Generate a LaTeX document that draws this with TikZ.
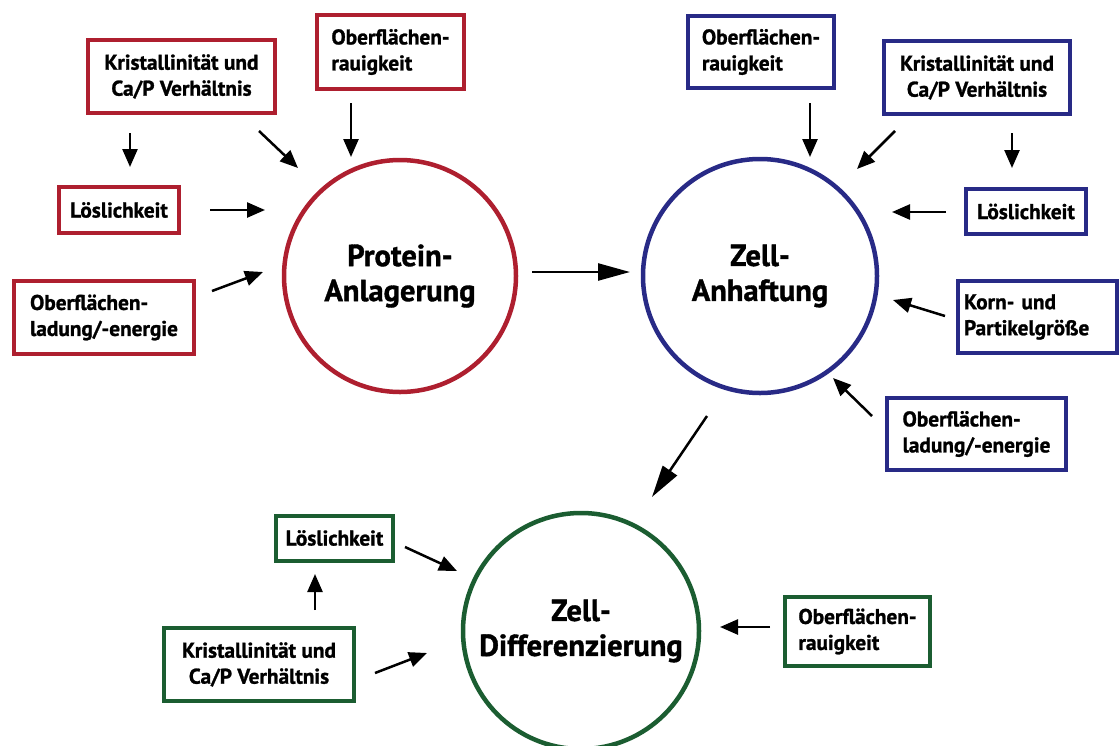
\documentclass[tikz,border=0pt]{standalone}
\usepackage{fontspec}
\setmainfont{PT Sans}[BoldFeatures={FakeBold=1.2}]
\usetikzlibrary{arrows.meta, positioning}

\definecolor{protred}{HTML}{AE1F2F}
\definecolor{zellblue}{HTML}{282A86}
\definecolor{diffgreen}{HTML}{1B5D31}

\tikzset{
  factor/.style={draw, line width=4pt, inner sep=0pt, align=center, text=black,
    font=\bfseries\fontsize{21.3}{26}\selectfont},
  stage/.style={draw, circle, line width=4.5pt, inner sep=0pt, align=center, text=black,
    font=\bfseries\fontsize{30.5}{35}\selectfont},
  infl/.style={-{Triangle[length=18pt,width=15pt]}, line width=2.5pt},
  flow/.style={-{Triangle[length=32pt,width=17pt]}, line width=2.5pt}
}

\begin{document}
\begin{tikzpicture}[x=1pt, y=-1pt]
  \useasboundingbox (0,0) rectangle (1120,745);

  % Protein-Anlagerung
  \node[stage, draw=protred, minimum size=232pt] (prot) at (400,276) {Protein-\\Anlagerung};

  \node[factor, draw=protred, minimum width=187pt, minimum height=73pt] (rKrist) at (181.5,76.5)
    {Kristallinität und\\Ca/P Verhältnis};
  \node[factor, draw=protred, minimum width=147pt, minimum height=74pt, align=left] (rRau) at (390.5,52)
    {Oberflächen-\\rauigkeit};
  \node[factor, draw=protred, minimum width=120pt, minimum height=46pt] (rLoes) at (119,210)
    {Löslichkeit};
  \node[factor, draw=protred, minimum width=180pt, minimum height=73pt, align=left] (rLad) at (104,317.5)
    {Oberflächen-\\ladung/-energie};

  % Zell-Anhaftung
  \node[stage, draw=zellblue, minimum size=234pt] (anh) at (760,276) {Zell-\\Anhaftung};

  \node[factor, draw=zellblue, minimum width=146pt, minimum height=72pt, align=left] (bRau) at (761,52)
    {Oberflächen-\\rauigkeit};
  \node[factor, draw=zellblue, minimum width=186pt, minimum height=73pt] (bKrist) at (977,77.5)
    {Kristallinität und\\Ca/P Verhältnis};
  \node[factor, draw=zellblue, minimum width=120pt, minimum height=45pt] (bLoes) at (1026,211.5)
    {Löslichkeit};
  \node[factor, draw=zellblue, minimum width=159pt, minimum height=72pt, align=left, text width=147pt] (bKorn) at (1037.5,317)
    {Korn- und\\Partikelgröße};
  \node[factor, draw=zellblue, minimum width=179pt, minimum height=72pt, align=left] (bLad) at (976.5,434)
    {Oberflächen-\\ladung/-energie};

  % Zell-Differenzierung
  \node[stage, draw=diffgreen, minimum size=236pt] (diff) at (581,631) {Zell-\\Differenzierung};

  \node[factor, draw=diffgreen, minimum width=117pt, minimum height=45pt] (gLoes) at (334.5,538)
    {Löslichkeit};
  \node[factor, draw=diffgreen, minimum width=190pt, minimum height=73pt] (gKrist) at (259,664.5)
    {Kristallinität und\\Ca/P Verhältnis};
  \node[factor, draw=diffgreen, minimum width=145pt, minimum height=69pt, align=left] (gRau) at (857.5,631.5)
    {Oberflächen-\\rauigkeit};

  % arrow ends
  \coordinate (rKristL) at (130,133);   \coordinate (rLoesT) at (130,167);
  \coordinate (rKristR) at (259,131);   \coordinate (protNW) at (298,168);
  \coordinate (rRauS) at (351,103);     \coordinate (protN) at (351,157);
  \coordinate (rLoesE) at (210,210);    \coordinate (protW) at (265,210);
  \coordinate (rLadE) at (212,291);     \coordinate (protSW) at (263,272);

  \coordinate (protE) at (532,272);     \coordinate (anhW) at (630,272);

  \coordinate (bRauS) at (810,103);     \coordinate (anhN) at (810,157);
  \coordinate (bKristL) at (895,131);   \coordinate (anhNE) at (857,169);
  \coordinate (bKristR) at (1012,133);  \coordinate (bLoesT) at (1012,168);
  \coordinate (bLoesW) at (946,212);    \coordinate (anhE) at (892,212);
  \coordinate (bKornW) at (945,316);    \coordinate (anhESE) at (893,300);
  \coordinate (bLadW) at (872,416);     \coordinate (anhSE) at (833,378);

  \coordinate (anhS) at (707,416);      \coordinate (diffN) at (652,497);

  \coordinate (gKristT) at (315,610);   \coordinate (gLoesB) at (315,574);
  \coordinate (gLoesE) at (405,547);    \coordinate (diffNW) at (457,571);
  \coordinate (gKristE) at (375,673);   \coordinate (diffW) at (427,653);
  \coordinate (gRauW) at (770,627);     \coordinate (diffE) at (720,627);

  % influences
  \draw[infl] (rKristL) -- (rLoesT);
  \draw[infl] (rKristR) -- (protNW);
  \draw[infl] (rRauS) -- (protN);
  \draw[infl] (rLoesE) -- (protW);
  \draw[infl] (rLadE) -- (protSW);

  \draw[infl] (bRauS) -- (anhN);
  \draw[infl] (bKristL) -- (anhNE);
  \draw[infl] (bKristR) -- (bLoesT);
  \draw[infl] (bLoesW) -- (anhE);
  \draw[infl] (bKornW) -- (anhESE);
  \draw[infl] (bLadW) -- (anhSE);

  \draw[infl] (gKristT) -- (gLoesB);
  \draw[infl] (gLoesE) -- (diffNW);
  \draw[infl] (gKristE) -- (diffW);
  \draw[infl] (gRauW) -- (diffE);

  % stages
  \draw[flow] (protE) -- (anhW);
  \draw[flow] (anhS) -- (diffN);
\end{tikzpicture}
\end{document}
